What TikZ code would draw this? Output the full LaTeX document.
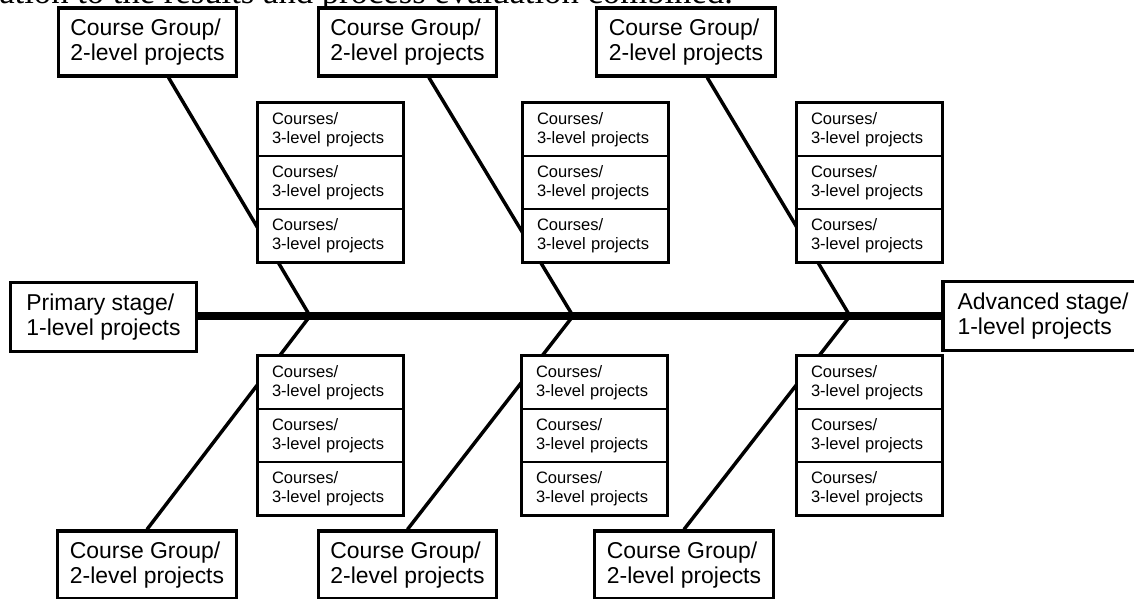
\documentclass[tikz,border=0pt]{standalone}
\usepackage{fontspec}
\setmainfont{Liberation Sans}
\newfontfamily\textserif{Liberation Serif}
\usetikzlibrary{positioning}

\begin{document}
\begin{tikzpicture}[x=0.75pt, y=-0.75pt, node distance=39.75pt,
	group/.style={rectangle, draw, line width=2.4pt, fill=white, minimum width=134pt, minimum height=51pt, align=left, font=\fontsize{17.2}{19}\selectfont},
	stage/.style={rectangle, draw, line width=2.4pt, fill=white, minimum height=52pt, align=left, font=\fontsize{17.2}{19}\selectfont},
	course/.style={rectangle, draw, line width=1pt, fill=white, minimum width=108.75pt, minimum height=39.75pt, inner xsep=10.5pt, text width=87.75pt, align=left, font=\fontsize{12.4}{14.6}\selectfont},
	rim/.style={draw, line width=2.2pt},
	bone/.style={draw, line width=2.6pt},
	spine/.style={draw, line width=6.5pt}]
		\clip (0,0) rectangle (1134,599);
		\node[anchor=base west, inner sep=0pt, font=\textserif\fontsize{26}{30}\selectfont] (caption) at (-1,4) {ation to the results and process evaluation combined.};

		% course groups above and below the spine
		\node[group] (gt1) at (147.5,42) {Course Group/\\2-level projects};
		\node[group] (gt2) at (407.5,42) {Course Group/\\2-level projects};
		\node[group] (gt3) at (686,42) {Course Group/\\2-level projects};
		\node[group] (gb1) at (147,565) {Course Group/\\2-level projects};
		\node[group] (gb2) at (407.5,565) {Course Group/\\2-level projects};
		\node[group] (gb3) at (684,565) {Course Group/\\2-level projects};

		% stages at both ends
		\node[stage, minimum width=140pt] (primary) at (103.5,317) {Primary stage/\\1-level projects};
		\node[stage, minimum width=150pt] (advanced) at (1043,316) {Advanced stage/\\1-level projects};

		\coordinate (j1) at (310,316);
		\coordinate (j2) at (573,316);
		\coordinate (j3) at (850,316);

		\draw[spine] (primary.east |- j1) -- (advanced.west |- j1);
		\draw[bone] (j1) -- (gt1);
		\draw[bone] (j2) -- (gt2);
		\draw[bone] (j3) -- (gt3);
		\draw[bone] (j1) -- (gb1.north);
		\draw[bone] (j2) -- (gb2.north);
		\draw[bone] (j3) -- (gb3.north);

		% course stacks
		\node[course] (t1a) at (330.5,129.5) {Courses/\\3-level projects};
		\node[course, below of=t1a] (t1b) {Courses/\\3-level projects};
		\node[course, below of=t1b] (t1c) {Courses/\\3-level projects};
		\node[course] (t2a) at (595.5,129.5) {Courses/\\3-level projects};
		\node[course, below of=t2a] (t2b) {Courses/\\3-level projects};
		\node[course, below of=t2b] (t2c) {Courses/\\3-level projects};
		\node[course] (t3a) at (869.5,129.5) {Courses/\\3-level projects};
		\node[course, below of=t3a] (t3b) {Courses/\\3-level projects};
		\node[course, below of=t3b] (t3c) {Courses/\\3-level projects};
		\node[course] (b1a) at (330.5,382.5) {Courses/\\3-level projects};
		\node[course, below of=b1a] (b1b) {Courses/\\3-level projects};
		\node[course, below of=b1b] (b1c) {Courses/\\3-level projects};
		\node[course] (b2a) at (594.5,382.5) {Courses/\\3-level projects};
		\node[course, below of=b2a] (b2b) {Courses/\\3-level projects};
		\node[course, below of=b2b] (b2c) {Courses/\\3-level projects};
		\node[course] (b3a) at (869.5,382.5) {Courses/\\3-level projects};
		\node[course, below of=b3a] (b3b) {Courses/\\3-level projects};
		\node[course, below of=b3b] (b3c) {Courses/\\3-level projects};

		\draw[rim] (t1a.north west) rectangle (t1c.south east);
		\draw[rim] (t2a.north west) rectangle (t2c.south east);
		\draw[rim] (t3a.north west) rectangle (t3c.south east);
		\draw[rim] (b1a.north west) rectangle (b1c.south east);
		\draw[rim] (b2a.north west) rectangle (b2c.south east);
		\draw[rim] (b3a.north west) rectangle (b3c.south east);
	\end{tikzpicture}
\end{document}
